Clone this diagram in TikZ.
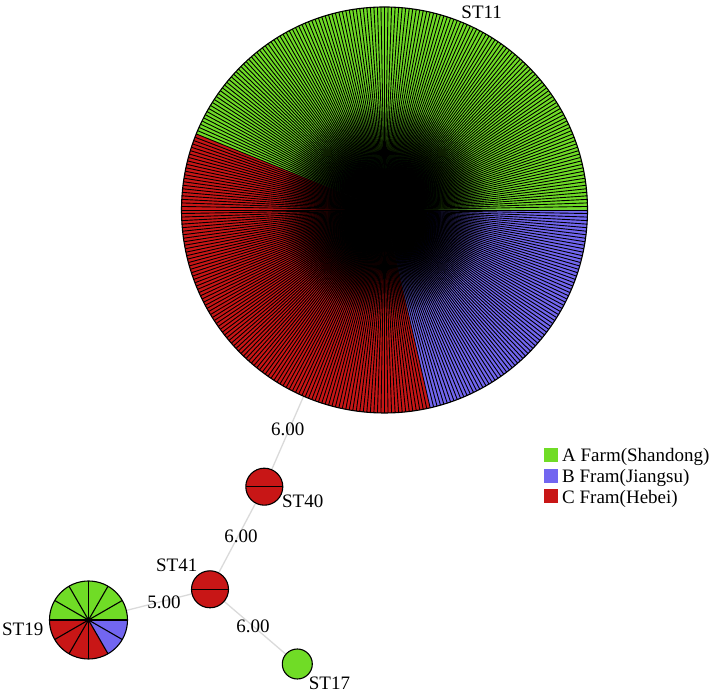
\documentclass[tikz,border=0pt]{standalone}
\usepackage{fontspec}
\setmainfont{Liberation Serif}
\definecolor{gA}{RGB}{112,220,38}
\definecolor{bB}{RGB}{114,102,240}
\definecolor{rC}{RGB}{200,22,22}
\definecolor{edgegray}{RGB}{218,218,218}
\begin{document}
\begin{tikzpicture}[x=1pt,y=1pt,
  lbl/.style={font=\fontsize{19}{22}\selectfont, inner sep=0pt},
  conn/.style={draw=edgegray, line width=1.3pt},
  stnode/.style={circle, inner sep=0pt, minimum size=#1},
  spoke/.style={line width=0.9pt},
  rim/.style={line width=1.1pt},
  haze/.style={fill=black, fill opacity=0.06},
  legsq/.style={minimum size=14pt, inner sep=0pt}]
\useasboundingbox (0,0) rectangle (722,692);
% nodes (positions)
\node[stnode=406pt] (st11) at (384.5,482) {};
\node[stnode=37pt] (st40) at (264.3,205.3) {};
\node[stnode=37pt] (st41) at (210,102.7) {};
\node[stnode=78pt] (st19) at (88.5,72) {};
\node[stnode=30pt] (st17) at (297.3,28) {};
% connectors
\draw[conn] (st11.center) -- (st40.center);
\draw[conn] (st40.center) -- (st41.center);
\draw[conn] (st41.center) -- (st19.center);
\draw[conn] (st41.center) -- (st17.center);
% ST11 big pie
\fill[gA] (st11.center) -- ++(0:203) arc[start angle=0,end angle=158,radius=203] -- cycle;
\fill[rC] (st11.center) -- ++(158:203) arc[start angle=158,end angle=283,radius=203] -- cycle;
\fill[bB] (st11.center) -- ++(283:203) arc[start angle=283,end angle=360,radius=203] -- cycle;
\foreach \a in {0,1,...,359} \draw[spoke] (st11.center) -- ++(\a:203);
\foreach \r in {36,39,...,105} \path[haze] (st11.center) circle[radius=\r];
\draw[rim] (st11.center) circle[radius=203];
% ST19 pie (12 slices)
\fill[gA] (st19.center) -- ++(0:39) arc[start angle=0,end angle=180,radius=39] -- cycle;
\fill[rC] (st19.center) -- ++(180:39) arc[start angle=180,end angle=300,radius=39] -- cycle;
\fill[bB] (st19.center) -- ++(300:39) arc[start angle=300,end angle=360,radius=39] -- cycle;
\foreach \a in {0,30,...,330} \draw[rim] (st19.center) -- ++(\a:39);
\draw[rim] (st19.center) circle[radius=39];
\fill (st19.center) circle[radius=2];
% ST40, ST41
\foreach \n in {st40,st41}{
  \fill[rC] (\n.center) circle[radius=18.5];
  \draw[rim] (\n.center) ++(-18.5,0) -- ++(37,0);
  \draw[rim] (\n.center) circle[radius=18.5];
}
% ST17
\fill[gA] (st17.center) circle[radius=15];
\draw[rim] (st17.center) circle[radius=15];
% node labels
\node[lbl] (t11) at (481.7,679.5) {ST11};
\node[lbl] (t40) at (302.7,190.3) {ST40};
\node[lbl] (t41) at (176.7,126.5) {ST41};
\node[lbl] (t19) at (22.7,63) {ST19};
\node[lbl] (t17) at (329.5,9) {ST17};
% edge labels
\node[lbl] (e1) at (287.7,263) {6.00};
\node[lbl] (e2) at (241,156) {6.00};
\node[lbl] (e3) at (164,89.3) {5.00};
\node[lbl] (e4) at (253,65.3) {6.00};
% legend
\node[legsq, fill=gA] (la) at (550.5,237) {};
\node[legsq, fill=bB] (lb) at (550.5,216.3) {};
\node[legsq, fill=rC] (lc) at (550.5,195.6) {};
\node[lbl, anchor=base west] (ta) at (562,230) {A Farm(Shandong)};
\node[lbl, anchor=base west] (tb) at (562,209.3) {B Fram(Jiangsu)};
\node[lbl, anchor=base west] (tc) at (562,188.6) {C Fram(Hebei)};
\end{tikzpicture}
\end{document}
